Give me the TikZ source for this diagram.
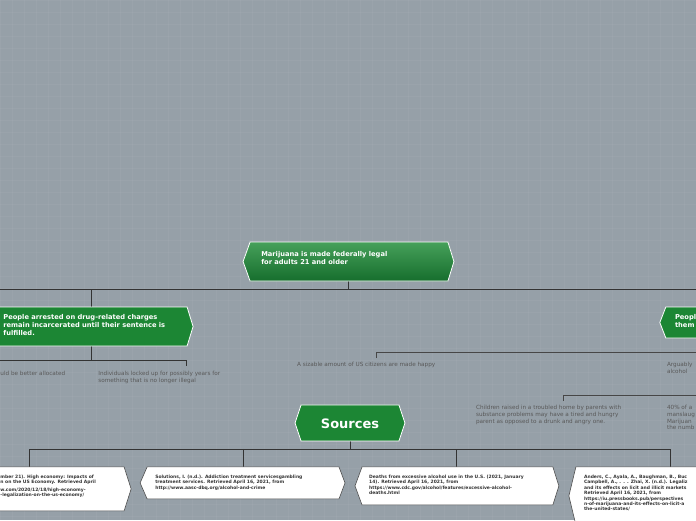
\documentclass[tikz,border=0pt]{standalone}
\usepackage{fontspec}
\setmainfont{DejaVu Sans}
\definecolor{gr}{RGB}{28,134,52}
\definecolor{grl}{RGB}{70,160,90}
\definecolor{grd}{RGB}{22,110,45}
\definecolor{bg}{RGB}{150,160,168}
\begin{document}
\begin{tikzpicture}[x=1pt,y=-1pt,
 ln/.style={draw=black!60!gray,line width=0.9pt},
 thin/.style={draw=black!45!gray,line width=0.6pt},
 gbox/.style={fill=gr,draw=white,line width=0.8pt},
 wbox/.style={fill=white,draw=black!70,line width=0.6pt},
 wt/.style={text=white,font=\bfseries\fontsize{6.7}{8}\selectfont,align=left,anchor=north west,inner sep=0},
 st/.style={text=black!80,font=\bfseries\fontsize{4.5}{5.4}\selectfont,align=left,anchor=north west,inner sep=0},
 gt/.style={text=black!65,font=\fontsize{5.7}{6.8}\selectfont,align=left,anchor=north west,inner sep=0}]
\fill[bg] (0,0) rectangle (696,520);
\foreach \i in {0,12,...,696} \draw[white,opacity=0.04] (\i,0)--(\i,520);
\foreach \i in {0,12,...,520} \draw[white,opacity=0.04] (0,\i)--(696,\i);
\useasboundingbox (0,0) rectangle (696,520);
% connectors
\draw[ln] (0,289)--(696,289);
\coordinate (m) at (348,281);
\draw[ln] (m)--(348,289);
\draw[ln] (91,289)--(91,307);
\draw[ln] (91,346)--(91,360) (0,360)--(186,360)--(186,366);
\draw[thin] (376,358)--(376,352)--(696,352);
\draw[thin] (563,401)--(563,395)--(696,395);
\draw[ln] (350,441)--(350,449) (29,467)--(29,449)--(671,449)--(671,467) (243,449)--(243,467) (457,449)--(457,467);
% main
\path[gbox,top color=grl,bottom color=grd] (250,242)--(448,242)--(454,261.5)--(448,281)--(250,281)--(243,261.5)--cycle;
\node[wt] (main) at (261,251) {Marijuana is made federally legal\\for adults 21 and older};
% left green
\path[gbox] (-5,307)--(187,307)--(193,326.5)--(187,346)--(-5,346)--cycle;
\node[wt] (l) at (3,314) {People arrested on drug-related charges\\remain incarcerated until their sentence is\\fulfilled.};
% right green
\path[gbox] (700,307)--(666,307)--(660,322.5)--(666,338)--(700,338)--cycle;
\node[wt] (r) at (675,314) {Peopl\\them};
% grey texts
\node[gt] (t1) at (0,371) {uld be better allocated};
\node[gt] (t2) at (98,371) {Individuals locked up for possibly years for\\something that is no longer illegal};
\node[gt] (t3) at (297,362) {A sizable amount of US citizens are made happy};
\node[gt] (t4) at (667,362) {Arguably\\alcohol};
\node[gt] (t5) at (476,405) {Children raised in a troubled home by parents with\\substance problems may have a tired and hungry\\parent as opposed to a drunk and angry one.};
\node[gt] (t6) at (667,405) {40\% of a\\manslaug\\Marijuan\\the numb};
% sources
\path[gbox] (301,405)--(399,405)--(405,423)--(399,441)--(301,441)--(295,423)--cycle;
\node[text=white,font=\bfseries\fontsize{13}{15}\selectfont] (src) at (350,423.5) {Sources};
% source boxes
\path[wbox] (-5,467)--(124,467)--(131,489)--(124,511)--(-5,511)--cycle;
\node[st] (s1) at (0,475) {mber 21). High economy: Impacts of\\n on the US Economy. Retrieved April\\[2pt]w.com/2020/12/18/high-economy-\\-legalization-on-the-us-economy/};
\path[wbox] (147,467)--(339,467)--(345,483)--(339,499)--(147,499)--(140,483)--cycle;
\node[st] (s2) at (155,475) {Solutions, I. (n.d.). Addiction treatment servicesgambling\\treatment services. Retrieved April 16, 2021, from\\http://www.aasc-dbq.org/alcohol-and-crime};
\path[wbox] (362,467)--(553,467)--(559,486)--(553,505)--(362,505)--(355,486)--cycle;
\node[st] (s3) at (369,475) {Deaths from excessive alcohol use in the U.S. (2021, January\\14). Retrieved April 16, 2021, from\\https://www.cdc.gov/alcohol/features/excessive-alcohol-\\deaths.html};
\path[wbox] (576,467)--(700,467)--(700,525)--(576,525)--(569,496)--cycle;
\node[st] (s4) at (584,475) {Anders, C., Ayala, A., Baughman, B., Buc\\Campbell, A., . . . Zhai, X. (n.d.). Legaliz\\and its effects on licit and illicit markets\\Retrieved April 16, 2021, from\\https://iu.pressbooks.pub/perspectives\\n-of-marijuana-and-its-effects-on-licit-a\\the-united-states/};
\end{tikzpicture}
\end{document}
